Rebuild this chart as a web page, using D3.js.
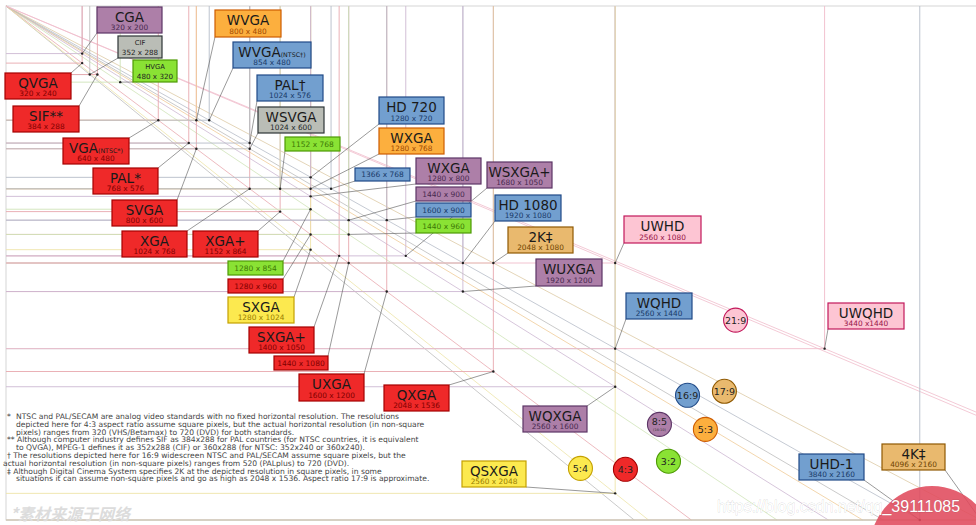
<!DOCTYPE html>
<html>
<head>
<meta charset="utf-8">
<script src="https://cdn.jsdelivr.net/npm/d3@7"></script>
<style>
  body { margin: 0; background: #fff; }
  svg { display: block; font-family: "DejaVu Sans", sans-serif; }
</style>
</head>
<body>
<svg id="chart" width="976" height="525"></svg>
<script>
// resolutions
const titles = ["CGA", "CIF", "HVGA", "QVGA", "SIF**", "VGA", "PAL*", "SVGA", "XGA", "XGA+",
  "", "", "SXGA", "SXGA+", "", "UXGA", "QXGA",
  "WVGA", "WVGA", "PAL†", "WSVGA", "", "HD 720", "WXGA", "", "WXGA", "", "", "",
  "WSXGA+", "HD 1080", "2K‡", "WUXGA", "UWHD", "WQHD", "UWQHD", "WQXGA", "QSXGA", "UHD-1", "4K‡"];
const notes = ["", "", "", "", "", "(NTSC*)", "", "", "", "",
  "", "", "", "", "", "", "",
  "", "(NTSC†)", "", "", "", "", "", "", "", "", "", "",
  "", "", "", "", "", "", "", "", "", "", ""];
const widths = [320, 352, 480, 320, 384, 640, 768, 800, 1024, 1152,
  1280, 1280, 1280, 1400, 1440, 1600, 2048,
  800, 854, 1024, 1024, 1152, 1280, 1280, 1366, 1280, 1440, 1600, 1440,
  1680, 1920, 2048, 1920, 2560, 2560, 3440, 2560, 2560, 3840, 4096];
const heights = [200, 288, 320, 240, 288, 480, 576, 600, 768, 864,
  854, 960, 1024, 1050, 1080, 1200, 1536,
  480, 480, 576, 600, 768, 720, 768, 768, 800, 900, 900, 960,
  1050, 1080, 1080, 1200, 1080, 1440, 1440, 1600, 2048, 2160, 2160];
const groups = ["purple", "gray", "green", "red", "red", "red", "red", "red", "red", "red",
  "green", "red", "yellow", "red", "red", "red", "red",
  "orange", "blue", "blue", "gray", "green", "blue", "orange", "blue", "purple", "purple", "blue", "green",
  "purple", "blue", "tan", "purple", "pink", "blue", "pink", "purple", "yellow", "blue", "tan"];
const kinds = ["big", "mid", "mid", "big", "big", "big", "big", "big", "big", "big",
  "small", "small", "big", "big", "small", "big", "big",
  "big", "big", "big", "big", "small", "big", "big", "small", "big", "small", "small", "small",
  "big", "big", "big", "big", "big", "big", "big", "big", "big", "big", "big"];
const subOverride = { 35: "3440 x1440" };

// label box layout (pixels)
const boxes = [[97, 7, 65, 26], [118, 36, 44, 22], [133, 60, 44, 22], [5, 73, 66, 26], [13, 106, 66, 26],
  [63, 138, 66, 26], [93, 168, 65, 26], [112, 200, 65, 26], [122, 231, 65, 26], [193, 231, 65, 26],
  [228, 261, 55, 14], [228, 279, 55, 14], [228, 297, 66, 26], [249, 327, 65, 26], [274, 356, 54, 14],
  [299, 374, 65, 27], [384, 385, 65, 26],
  [215, 10, 66, 27], [233, 42, 78, 26], [257, 75, 66, 26], [258, 107, 66, 26], [285, 137, 55, 14],
  [379, 97, 65, 27], [379, 128, 65, 26], [355, 168, 55, 13], [416, 158, 65, 26], [416, 187, 55, 14],
  [416, 203, 55, 14], [416, 219, 55, 14],
  [487, 162, 65, 26], [495, 195, 66, 26], [508, 227, 65, 26], [536, 259, 66, 27], [624, 216, 77, 27],
  [626, 293, 66, 26], [828, 303, 76, 26], [523, 406, 64, 26], [462, 461, 64, 26], [799, 454, 65, 26],
  [882, 444, 63, 26]];

// aspect ratio badges
const ratioNames = ["21:9", "16:9", "17:9", "8:5", "5:3", "3:2", "5:4", "4:3"];
const ratioGroups = ["pink", "blue", "tan", "purple", "orange", "green", "yellow", "red"];
const ratioX = [3066, 2864, 3019, 2746, 2939, 2784, 2414, 2603];
const ratioY = [1320, 1636, 1619, 1758, 1779, 1913, 1943, 1947];

const footnotes = [
  [7, "*"], [16, "NTSC and PAL/SECAM are analog video standards with no fixed horizontal resolution. The resolutions"],
  [16, "depicted here for 4:3 aspect ratio assume square pixels, but the actual horizontal resolution (in non-square"],
  [16, "pixels) ranges from 320 (VHS/Betamax) to 720 (DVD) for both standards."],
  [7, "** Although computer industry defines SIF as 384x288 for PAL countries (for NTSC countries, it is equivalent"],
  [16, "to QVGA), MPEG-1 defines it as 352x288 (CIF) or 360x288 (for NTSC: 352x240 or 360x240)."],
  [7, "†  The resolutions depicted here for 16:9 widescreen NTSC and PAL/SECAM assume square pixels, but the"],
  [3, "actual horizontal resolution (in non-square pixels) ranges from 520 (PALplus) to 720 (DVD)."],
  [7, "‡  Although Digital Cinema System specifies 2K at the depicted resolution in square pixels, in some"],
  [16, "situations it can assume non-square pixels and go as high as 2048 x 1536. Aspect ratio 17:9 is approximate."]
];

const palette = {
  red: ["#ef2929", "#a40000"], purple: ["#ad7fa8", "#5c3566"], gray: ["#babdb6", "#2e3436"],
  green: ["#8ae234", "#4e9a06"], orange: ["#fcaf3e", "#ce5c00"], blue: ["#729fcf", "#204a87"],
  yellow: ["#fce94f", "#c4a000"], tan: ["#e9b96e", "#8f5902"], pink: ["#fdc5d3", "#c2185b"]
};
const lineTint = {
  red: "#e8a8ae", purple: "#cdb8d2", gray: "#bdbdbd", green: "#cfe3b8", orange: "#f0cc98",
  blue: "#b6bcc8", yellow: "#eee4a8", tan: "#ddcaa6", pink: "#f0bccb"
};

const k = 514 / 2160;
const x = d3.scaleLinear().domain([0, 4096]).range([6, 6 + 4096 * k]);
const y = d3.scaleLinear().domain([0, 2160]).range([6, 6 + 2160 * k]);

const data = titles.map((t, i) => ({
  title: t, note: notes[i], w: widths[i], h: heights[i], group: groups[i], kind: kinds[i],
  box: boxes[i], sub: subOverride[i] || `${widths[i]} x ${heights[i]}`
}));

const svg = d3.select("#chart");

// outer frame
svg.append("rect")
  .attr("x", x(0)).attr("y", y(0))
  .attr("width", x(4096) - x(0)).attr("height", y(2160) - y(0))
  .attr("fill", "none").attr("stroke", "#d6d6d6").attr("stroke-width", 1);

// diagonals from origin, one per distinct aspect ratio
const seen = new Set();
const diag = svg.append("g");
data.forEach((d) => {
  const key = (d.w / d.h).toFixed(2);
  if (seen.has(key)) return;
  seen.add(key);
  const t = Math.min(4096 / d.w, 2160 / d.h);
  diag.append("line")
    .attr("x1", x(0)).attr("y1", y(0))
    .attr("x2", x(d.w * t)).attr("y2", y(d.h * t))
    .attr("stroke", lineTint[d.group])
    .attr("stroke-width", 0.8);
});

// right and bottom edges of each resolution rectangle
svg.append("g").selectAll("path")
  .data(data)
  .enter()
  .append("path")
  .attr("d", (d) => `M${x(0)},${y(d.h)}H${x(d.w)}V${y(0)}`)
  .attr("fill", "none")
  .attr("stroke", (d) => lineTint[d.group])
  .attr("stroke-width", 0.9);

// leaders
const leaders = svg.append("g");
data.forEach((d) => {
  const [bx, by, bw, bh] = d.box;
  const px = x(d.w), py = y(d.h);
  const corners = [[bx, by], [bx + bw, by], [bx, by + bh], [bx + bw, by + bh]];
  const c = d3.least(corners, (p) => (p[0] - px) ** 2 + (p[1] - py) ** 2);
  leaders.append("line")
    .attr("x1", c[0]).attr("y1", c[1]).attr("x2", px).attr("y2", py)
    .attr("stroke", "#555").attr("stroke-width", 0.6);
  leaders.append("circle")
    .attr("cx", px).attr("cy", py).attr("r", 1.2).attr("fill", "#222");
});

// label boxes
const labels = svg.append("g")
  .selectAll("g")
  .data(data)
  .enter()
  .append("g")
  .attr("transform", (d) => `translate(${d.box[0]},${d.box[1]})`);

labels.append("rect")
  .attr("width", (d) => d.box[2])
  .attr("height", (d) => d.box[3])
  .attr("fill", (d) => palette[d.group][0])
  .attr("stroke", (d) => palette[d.group][1])
  .attr("stroke-width", 1.2);

labels.each(function (d) {
  const g = d3.select(this);
  const bw = d.box[2], bh = d.box[3];
  const dark = d3.color(palette[d.group][1]).darker(0.7).formatHex();
  if (d.kind === "big") {
    const t = g.append("text")
      .attr("x", bw / 2).attr("y", 14.5)
      .attr("text-anchor", "middle")
      .attr("fill", "#1a1a1a");
    t.append("tspan").attr("font-size", 13.5).text(d.title);
    if (d.note) t.append("tspan").attr("font-size", 6.3).text(d.note);
    g.append("text")
      .attr("x", bw / 2).attr("y", bh - 3.2)
      .attr("text-anchor", "middle")
      .attr("font-size", 7.4)
      .attr("fill", dark)
      .text(d.sub);
  } else if (d.kind === "mid") {
    g.append("text")
      .attr("x", bw / 2).attr("y", 8.5)
      .attr("text-anchor", "middle")
      .attr("font-size", 6.8)
      .attr("fill", "#222")
      .text(d.title);
    g.append("text")
      .attr("x", bw / 2).attr("y", 18.5)
      .attr("text-anchor", "middle")
      .attr("font-size", 7.2)
      .attr("fill", "#222")
      .text(d.sub);
  } else {
    g.append("text")
      .attr("x", bw / 2).attr("y", bh / 2 + 2.7)
      .attr("text-anchor", "middle")
      .attr("font-size", 7.5)
      .attr("fill", dark)
      .text(d.sub);
  }
});

// aspect ratio badges
const badges = svg.append("g")
  .selectAll("g")
  .data(ratioNames)
  .enter()
  .append("g")
  .attr("transform", (d, i) => `translate(${x(ratioX[i])},${y(ratioY[i])})`);

badges.append("circle")
  .attr("r", 12)
  .attr("fill", (d, i) => palette[ratioGroups[i]][0])
  .attr("stroke", (d, i) => palette[ratioGroups[i]][1])
  .attr("stroke-width", 1.1);

badges.append("text")
  .attr("text-anchor", "middle")
  .attr("y", (d) => (d === "8:5" ? 1 : 3.5))
  .attr("font-size", 9.5)
  .attr("fill", "#222")
  .text((d) => d);

badges.filter((d) => d === "8:5")
  .append("text")
  .attr("text-anchor", "middle")
  .attr("y", 6.5)
  .attr("font-size", 3.5)
  .attr("fill", "#333")
  .text("(16:10)");

// footnotes
svg.append("g")
  .selectAll("text")
  .data(footnotes)
  .enter()
  .append("text")
  .attr("x", (d) => d[0])
  .attr("y", (d, i) => 419 + Math.max(0, i - 1) * 7.8)
  .attr("font-size", 7.6)
  .attr("fill", "#444")
  .text((d) => d[1]);

// watermarks
svg.append("text")
  .attr("x", 10).attr("y", 520)
  .attr("font-family", "Noto Sans CJK SC")
  .attr("font-size", 16)
  .attr("font-style", "italic")
  .attr("font-weight", "bold")
  .attr("fill", "#dcdcdc")
  .text("*素材来源于网络");

svg.append("circle")
  .attr("cx", 932).attr("cy", 548).attr("r", 62)
  .attr("fill", "#e04a5c")
  .attr("fill-opacity", 0.88);

svg.append("text")
  .attr("x", 717).attr("y", 512)
  .attr("font-family", "Liberation Sans")
  .attr("font-size", 16)
  .attr("fill", "#fff")
  .attr("stroke", "rgba(0,0,0,0.16)")
  .attr("stroke-width", 0.8)
  .attr("paint-order", "stroke")
  .text("https://blog.csdn.net/qq_39111085");
</script>
</body>
</html>
